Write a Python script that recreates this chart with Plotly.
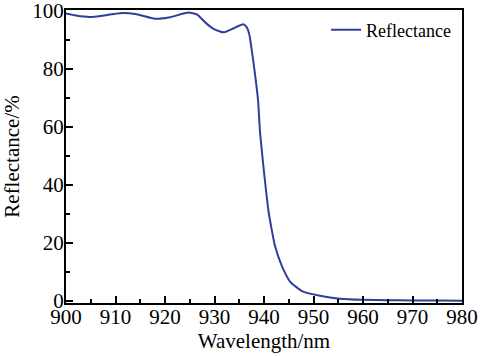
import plotly.graph_objects as go

wavelength = [900, 902, 904.8, 908, 910.9, 914, 918, 921, 924.7, 926.5, 928.4, 930, 931.9, 933.5,
              935.8, 936.5, 937, 937.8, 938.8, 939.2, 939.9, 940.9, 941.5, 942.2, 943.6, 945.3,
              947.9, 951.3, 955.3, 960, 965, 970, 975, 980]
reflectance = [99, 98.3, 97.8, 98.4, 99.1, 98.8, 97.2, 97.7, 99.3, 98.6, 95.5, 93.5, 92.5, 93.6,
               95.3, 94.3, 92, 83, 69, 58, 46, 31, 25, 19, 12, 6.5,
               3.1, 1.7, 0.7, 0.3, 0.15, 0.1, 0.05, 0]

x_ticks = [900, 910, 920, 930, 940, 950, 960, 970, 980]
y_ticks = [0, 20, 40, 60, 80, 100]

font_family = "Liberation Serif, Times New Roman, serif"

fig = go.Figure()
fig.add_trace(go.Scatter(
    x=wavelength, y=reflectance, mode="lines", name="Reflectance",
    line=dict(color="#2f3f99", width=2, shape="spline", smoothing=0.5),
))

fig.update_layout(
    width=482, height=357,
    margin=dict(l=66, r=20, t=10, b=54, autoexpand=False),
    paper_bgcolor="white", plot_bgcolor="white",
    font=dict(family=font_family, size=21, color="black"),
    showlegend=True,
    legend=dict(x=0.985, y=0.995, xanchor="right", yanchor="top",
                bgcolor="rgba(0,0,0,0)", font=dict(size=18, family=font_family)),
    xaxis=dict(
        range=[900, 980], tickvals=x_ticks, ticks="inside", ticklen=7, tickwidth=2,
        tickcolor="black", showline=True, linecolor="black", linewidth=2, mirror=True,
        showgrid=False, zeroline=False, automargin=False, ticklabelstandoff=-6,
        ticklabeloverflow="allow",
        minor=dict(dtick=5, ticks="inside", ticklen=4, tickwidth=2, tickcolor="black", showgrid=False),
        title=dict(text="Wavelength/nm", standoff=5, font=dict(size=21)),
        tickfont=dict(size=21),
    ),
    yaxis=dict(
        range=[-0.8, 100.2], tickvals=y_ticks, ticks="inside", ticklen=7, tickwidth=2,
        tickcolor="black", showline=True, linecolor="black", linewidth=2, mirror=True,
        showgrid=False, zeroline=False, automargin=False, ticklabelstandoff=-4,
        ticklabeloverflow="allow",
        minor=dict(dtick=10, ticks="inside", ticklen=4, tickwidth=2, tickcolor="black", showgrid=False),
        title=dict(text="Reflectance/%", standoff=14, font=dict(size=21)),
        tickfont=dict(size=21),
    ),
)

fig.write_html("out.html", config={"displayModeBar": False},
               post_script="document.body.style.margin='0';")
